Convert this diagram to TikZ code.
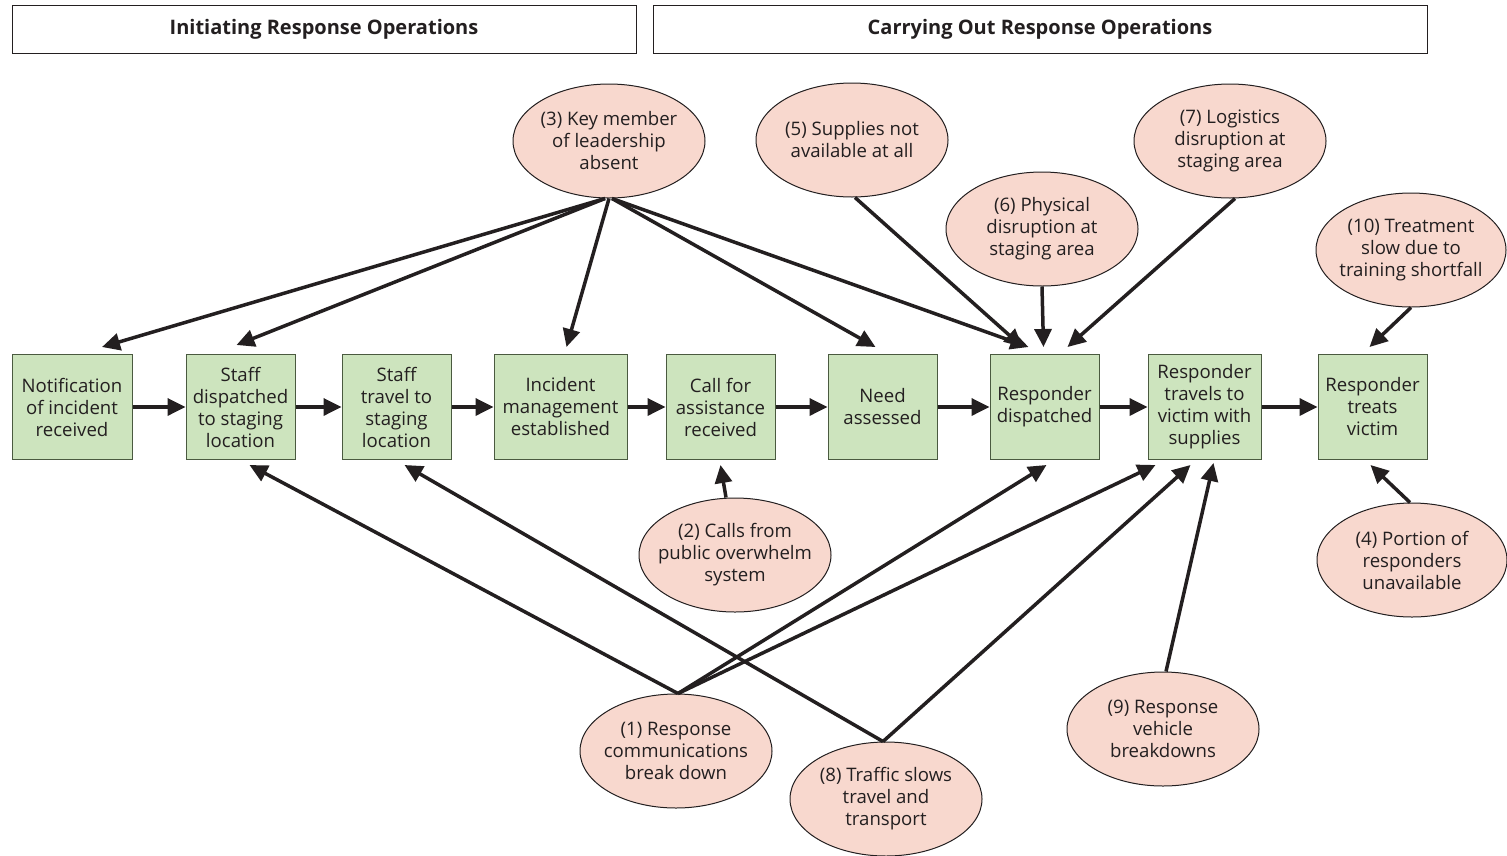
\documentclass[tikz,border=0pt]{standalone}
\usepackage{fontspec}
\setmainfont{Open Sans}
\usetikzlibrary{arrows.meta,shapes.geometric}
\definecolor{boxfill}{HTML}{CDE4BE}
\definecolor{boxdraw}{HTML}{4A5A40}
\definecolor{ellfill}{HTML}{F8D8CE}
\definecolor{txt}{HTML}{231F20}
\tikzset{
  stepbox/.style={draw=boxdraw, fill=boxfill, line width=1pt, minimum height=105pt, align=center, inner sep=0pt, text=txt, font=\fontsize{18.6}{22}\selectfont},
  cause/.style={draw=txt, fill=ellfill, line width=1pt, ellipse, minimum width=192pt, minimum height=114pt, align=center, inner xsep=-40pt, inner ysep=-20pt, text=txt, font=\fontsize{18.6}{22}\selectfont},
  header/.style={draw=txt, fill=white, line width=1pt, minimum height=48pt, inner sep=0pt, text=txt, font=\fontsize{20}{24}\selectfont\bfseries},
  arr/.style={draw=txt, line width=3.5pt, -{Triangle[length=18pt,width=17pt]}},
}
\begin{document}
\begin{tikzpicture}[x=1pt,y=-1pt]
\useasboundingbox (0,0) rectangle (1507,855);
% headers
\node[header, minimum width=624pt] (h1) at (324,29) {Initiating Response Operations};
\node[header, minimum width=774pt] (h2) at (1040,29) {Carrying Out Response Operations};
% boxes
\node[stepbox, minimum width=120pt] (b1) at (72,407) {Notification\\of incident\\received};
\node[stepbox, minimum width=109pt] (b2) at (240.5,407) {Staff\\dispatched\\to staging\\location};
\node[stepbox, minimum width=109pt] (b3) at (396.5,407) {Staff\\travel to\\staging\\location};
\node[stepbox, minimum width=133pt] (b4) at (560.5,407) {Incident\\management\\established};
\node[stepbox, minimum width=109pt] (b5) at (720.5,407) {Call for\\assistance\\received};
\node[stepbox, minimum width=109pt] (b6) at (882.5,407) {Need\\assessed};
\node[stepbox, minimum width=109pt] (b7) at (1044.5,407) {Responder\\dispatched};
\node[stepbox, minimum width=113pt] (b8) at (1204.5,407) {Responder\\travels to\\victim with\\supplies};
\node[stepbox, minimum width=109pt] (b9) at (1372.5,407) {Responder\\treats\\victim};
% causes
\node[cause] (e3) at (609,141) {(3) Key member\\of leadership\\absent};
\node[cause] (e5) at (852,140) {(5) Supplies not\\available at all};
\node[cause] (e6) at (1042,229) {(6) Physical\\disruption at\\staging area};
\node[cause] (e7) at (1230,141) {(7) Logistics\\disruption at\\staging area};
\node[cause, minimum width=190pt] (e10) at (1411,250) {(10) Treatment\\slow due to\\training shortfall};
\node[cause] (e2) at (735,555) {(2) Calls from\\public overwhelm\\system};
\node[cause, minimum width=190pt] (e4) at (1412,560) {(4) Portion of\\responders\\unavailable};
\node[cause] (e1) at (676,751) {(1) Response\\communications\\break down};
\node[cause] (e8) at (886,799) {(8) Traffic slows\\travel and\\transport};
\node[cause] (e9) at (1163,729) {(9) Response\\vehicle\\breakdowns};
% main flow
\foreach \a/\b in {b1/b2,b2/b3,b3/b4,b4/b5,b5/b6,b6/b7,b7/b8,b8/b9}
  \draw[arr] (\a.east) -- (\b.west);
% from (3)
\coordinate (e3a) at ([xshift=-4pt]e3.south);
\coordinate (e3b) at ([xshift=3pt]e3.south);
\draw[arr] (e3a) -- ([xshift=30pt,yshift=7pt]b1.north);
\draw[arr] (e3a) -- ([xshift=-4pt,yshift=9pt]b2.north);
\draw[arr] (e3.south) -- ([xshift=6pt,yshift=7pt]b4.north);
\draw[arr] (e3b) -- ([xshift=-7pt,yshift=7pt]b6.north);
\draw[arr] (e3b) -- ([xshift=-16pt,yshift=7pt]b7.north);
% (5),(6),(7)
\draw[arr] ([xshift=3pt]e5.south) -- ([xshift=-22pt,yshift=7pt]b7.north);
\draw[arr] (e6.south) -- ([xshift=-1pt,yshift=7pt]b7.north);
\draw[arr] ([xshift=5pt]e7.south) -- ([xshift=23pt,yshift=7pt]b7.north);
% (10)
\draw[arr] (e10.south) -- ([xshift=-3pt,yshift=7pt]b9.north);
% (2), (4)
\draw[arr] ([xshift=-9pt]e2.north) -- ([yshift=-5pt]b5.south);
\draw[arr] ([xshift=-2pt]e4.north) -- ([xshift=-2pt,yshift=-5pt]b9.south);
% (1)
\coordinate (e1t) at ([xshift=2pt]e1.north);
\draw[arr] (e1t) -- ([xshift=9pt,yshift=-5pt]b2.south);
\draw[arr] (e1t) -- ([xshift=2pt,yshift=-5pt]b7.south);
\draw[arr] (e1t) -- ([xshift=-49pt,yshift=-5pt]b8.south);
% (8)
\coordinate (e8t) at ([xshift=-3pt]e8.north);
\draw[arr] (e8t) -- ([xshift=8pt,yshift=-5pt]b3.south);
\draw[arr] (e8t) -- ([xshift=-14pt,yshift=-5pt]b8.south);
% (9)
\draw[arr] ([xshift=3pt]e9.north) -- ([xshift=9pt,yshift=-3pt]b8.south);
\end{tikzpicture}
\end{document}
